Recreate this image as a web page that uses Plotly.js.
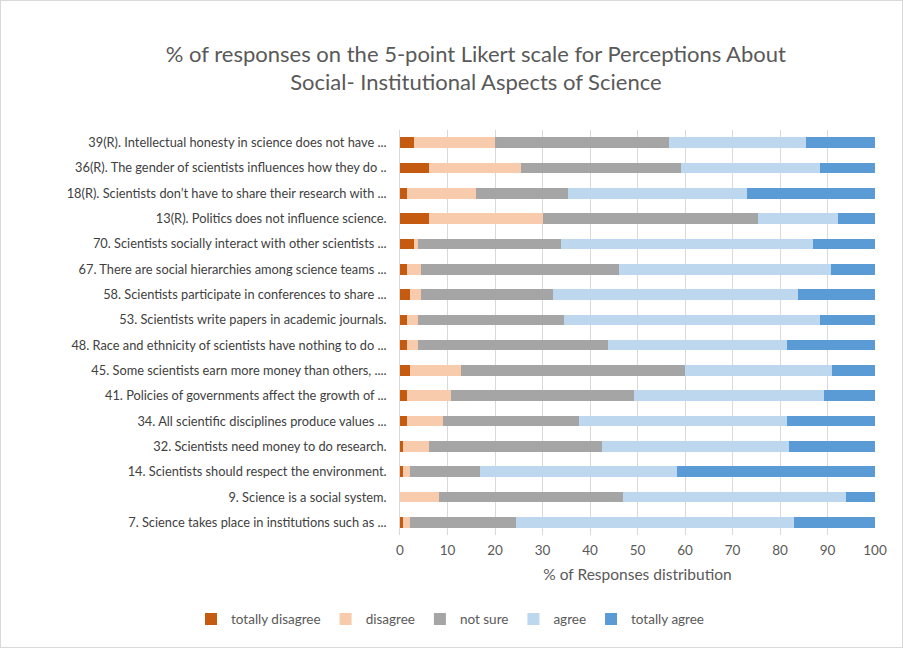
<!DOCTYPE html>
<html>
<head>
<meta charset="utf-8">
<script src="https://cdn.plot.ly/plotly-3.0.1.min.js"></script>
<style>
html,body{margin:0;padding:0;background:#fff;}
#wrap{position:relative;width:903px;height:648px;}
#frame{position:absolute;left:0;top:0;width:903px;height:648px;box-sizing:border-box;border:1px solid #d9d9d9;pointer-events:none;}
</style>
</head>
<body>
<div id="wrap"><div id="chart"></div><div id="frame"></div></div>
<script>
const categories = [
  "39(R). Intellectual honesty in science does not have ...",
  "36(R). The gender of scientists influences how they do ..",
  "18(R). Scientists don\u2019t have to share their research with ...",
  "13(R). Politics does not influence science.",
  "70. Scientists socially interact with other scientists ...",
  "67. There are social hierarchies among science teams ...",
  "58. Scientists participate in conferences to share ...",
  "53. Scientists write papers in academic journals.",
  "48. Race and ethnicity of scientists have nothing to do ...",
  "45. Some scientists earn more money than others, ....",
  "41. Policies of governments affect the growth of ...",
  "34. All scientific disciplines produce values ...",
  "32. Scientists need money to do research.",
  "14. Scientists should respect the environment.",
  "9. Science is a social system.",
  "7. Science takes place in institutions such as ..."
];
const totallyDisagree = [3.0, 6.1, 1.4, 6.1, 3.0, 1.4, 2.1, 1.4, 1.4, 2.1, 1.4, 1.4, 0.7, 0.7, 0.0, 0.7];
const disagree        = [16.9, 19.3, 14.6, 23.9, 0.7, 3.0, 2.3, 2.3, 2.3, 10.8, 9.3, 7.6, 5.4, 1.4, 8.3, 1.4];
const notSure         = [36.8, 33.7, 19.3, 45.4, 30.2, 41.6, 27.9, 30.9, 40.0, 47.1, 38.5, 28.6, 36.4, 14.8, 38.7, 22.4];
const agree           = [28.7, 29.3, 37.7, 16.9, 53.1, 44.7, 51.5, 53.8, 37.8, 30.9, 40.0, 43.9, 39.3, 41.5, 46.9, 58.5];
const totallyAgree    = [14.6, 11.6, 27.0, 7.7, 13.0, 9.3, 16.2, 11.6, 18.5, 9.1, 10.8, 18.5, 18.3, 41.6, 6.1, 17.0];
const seriesNames = ["totally disagree", "disagree", "not sure", "agree", "totally agree"];
const xTicks = [0, 10, 20, 30, 40, 50, 60, 70, 80, 90, 100];

const colors = ["#C55A11", "#F8CBAD", "#A5A5A5", "#BDD7EE", "#5B9BD5"];
const values = [totallyDisagree, disagree, notSure, agree, totallyAgree];
const font = "Lato, 'Open Sans', sans-serif";

const traces = values.map((v, i) => ({
  type: "bar",
  orientation: "h",
  name: seriesNames[i],
  x: v,
  y: categories,
  marker: {color: colors[i]},
  hoverinfo: "x+name"
}));

const layout = {
  width: 903, height: 648,
  paper_bgcolor: "#fff",
  plot_bgcolor: "#fff",
  barmode: "stack",
  bargap: 0.58,
  margin: {l: 400, r: 28, t: 130, b: 113},
  font: {family: font, color: "#595959", size: 13},
  title: {
    text: "% of responses on the 5-point Likert scale for Perceptions About<br>Social- Institutional Aspects of Science",
    font: {family: font, size: 22, color: "#595959"},
    x: 0.527, xanchor: "center", y: 0.905, yanchor: "top"
  },
  xaxis: {
    range: [0, 100],
    tickvals: xTicks,
    ticktext: xTicks.map(String),
    showgrid: true, gridcolor: "#d9d9d9", gridwidth: 1,
    zeroline: false, showline: false, ticks: "",
    ticklabelstandoff: 5,
    tickfont: {size: 13.5, color: "#595959"},
    title: {text: "% of Responses distribution", font: {size: 15.5, color: "#595959"}, standoff: 12}
  },
  yaxis: {
    type: "category",
    autorange: "reversed",
    showline: true, linecolor: "#d9d9d9", linewidth: 1,
    ticks: "", ticklen: 0,
    tickfont: {size: 12.8, color: "#404040"},
    ticksuffix: "   "
  },
  legend: {
    orientation: "h",
    x: -0.44, xanchor: "left",
    y: -0.208, yanchor: "middle",
    font: {size: 13.5, color: "#595959"},
    traceorder: "normal",
    itemwidth: 30
  },
  showlegend: true
};

Plotly.newPlot("chart", traces, layout, {displayModeBar: false, staticPlot: true});
</script>
</body>
</html>
